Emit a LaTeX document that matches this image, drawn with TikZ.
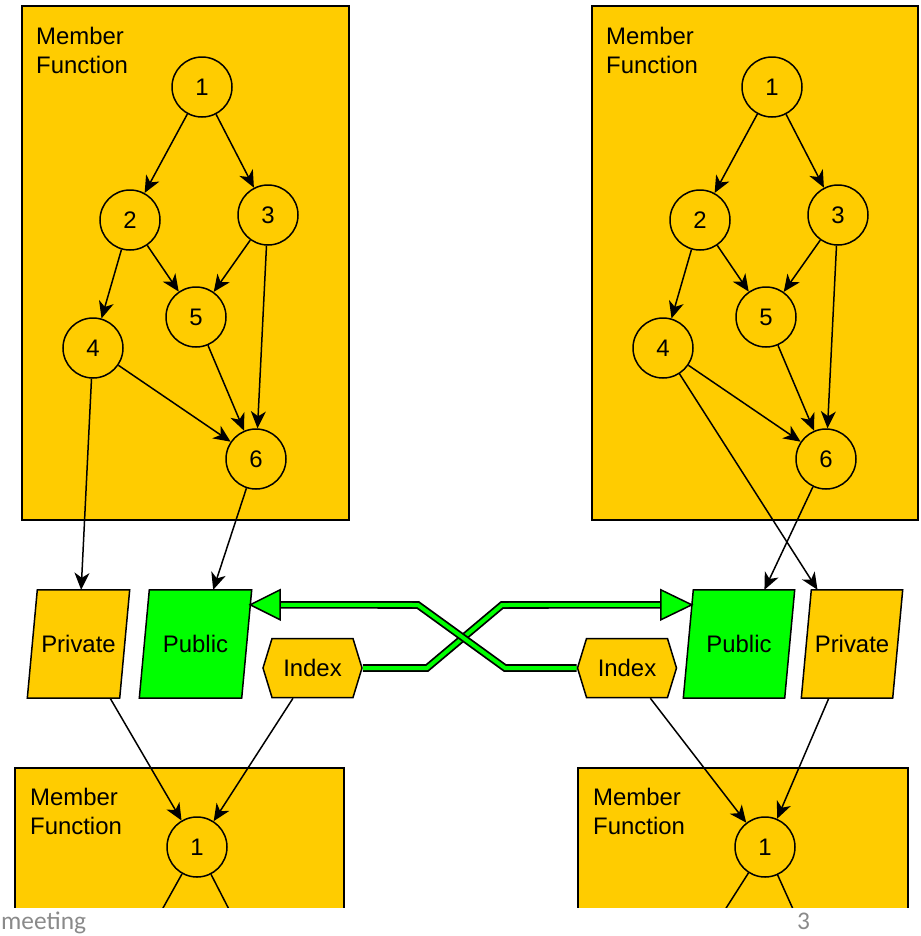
\documentclass[tikz,border=0pt]{standalone}
\usepackage{fontspec}
\setmainfont{Liberation Sans}
\newfontfamily\footfont{Carlito}
\usetikzlibrary{positioning,shapes.geometric,shapes.symbols,arrows.meta,backgrounds}
\definecolor{mfgold}{HTML}{FFCC00}
\definecolor{pubgreen}{HTML}{00FF00}
\definecolor{footgray}{HTML}{8A8A8A}
\tikzset{
  mfbox/.style={draw, line width=1.8bp, fill=mfgold},
  mflabel/.style={anchor=north west, inner sep=0pt, align=left},
  vtx/.style={circle, draw, line width=1.5bp, fill=mfgold, minimum size=60bp, inner sep=0pt},
  flow/.style={line width=1.5bp, -{Stealth[length=17bp,width=15bp,inset=5bp]}},
  plain/.style={line width=1.5bp},
  slantbox/.style={rectangle, minimum height=108bp, inner sep=0pt},
  slantline/.style={draw, line width=1.5bp},
  idxbox/.style={signal, signal to=east and west, signal pointer angle=146, draw,
    line width=1.5bp, fill=mfgold, minimum width=99bp, minimum height=59bp, inner sep=0pt},
  xfer/.style={draw=black, line width=1.8bp, double=pubgreen, double distance=4bp},
  xtip/.style={draw=black, line width=1.5bp, fill=pubgreen, line join=miter},
  foot/.style={font=\footfont\fontsize{25.5}{30}\selectfont, text=footgray, anchor=base west, inner sep=0pt}
}

\begin{document}
\begin{tikzpicture}[x=1bp, y=-1bp, font=\fontsize{24}{29}\selectfont]
\useasboundingbox (0,0) rectangle (921,936);

% member function boxes
\draw[mfbox] (22,6) rectangle (349,520);
\draw[mfbox] (592,6) rectangle (918,520);
\node[mflabel] (lTitle) at (36,27) {Member\\Function};
\node[mflabel] (rTitle) at (606,27) {Member\\Function};

% call graphs
\foreach \n/\x/\y in {1/202/87, 2/130/220, 3/268/215, 4/93/348, 5/196/317, 6/256/459}
{
  \node[vtx] (l\n) at (\x,\y) {\n};
  \node[vtx] (r\n) at (\x+570,\y) {\n};
}
\foreach \s/\t in {1/2, 1/3, 2/4, 2/5, 3/5, 3/6, 4/6, 5/6}
{
  \draw[flow] (l\s) -- (l\t);
  \draw[flow] (r\s) -- (r\t);
}

% data members
\node[slantbox, minimum width=92bp] (privL) at (78.5,644) {Private};
\node[slantbox, minimum width=102bp] (pubL) at (195.5,644) {Public};
\node[idxbox] (idxL) at (312.5,668) {Index};
\node[idxbox] (idxR) at (627,668) {Index};
\node[slantbox, minimum width=101bp] (pubR) at (739,644) {Public};
\node[slantbox, minimum width=91bp] (privR) at (852,644) {Private};
\begin{pgfonlayer}{background}
\foreach \b/\c in {privL/mfgold, pubL/pubgreen, pubR/pubgreen, privR/mfgold}
  \filldraw[slantline, fill=\c] ([xshift=-5bp]\b.south west) -- ([xshift=-5bp]\b.south east)
    -- ([xshift=5bp]\b.north east) -- ([xshift=5bp]\b.north west) -- cycle;
\end{pgfonlayer}

\draw[flow] (l4) -- (privL);
\draw[flow] (l6) -- (pubL);
\draw[flow] (r6) -- (pubR);
\draw[flow] (r4) -- (privR);

% exchange of public data
\coordinate (tipR) at ([xshift=3.5bp,yshift=-15bp]pubR.north west);
\coordinate (tipL) at ([xshift=3.5bp,yshift=-15bp]pubL.north east);
\draw[xfer] (idxL.east) -- (427,668) -- (502,605) -- ([xshift=-30bp]tipR);
\draw[xfer] (idxR.west) -- (505,668) -- (418,605) -- ([xshift=30bp]tipL);
\filldraw[xtip] (tipR) -- ++(-31,-15) -- ++(0,30) -- cycle;
\filldraw[xtip] (tipL) -- ++(30,-15) -- ++(0,30) -- cycle;

% called member functions
\begin{scope}
  \clip (0,0) rectangle (921,907);
  \draw[mfbox] (15,768) rectangle (344,920);
  \draw[mfbox] (578,768) rectangle (908,920);
  \node[mflabel] (lbTitle) at (30,788) {Member\\Function};
  \node[mflabel] (rbTitle) at (593,788) {Member\\Function};
  \node[vtx] (lb1) at (197,847) {1};
  \node[vtx] (rb1) at (765,847) {1};
  \coordinate (lb2) at (134,960);
  \coordinate (lb3) at (255,960);
  \coordinate (rb2) at (693,960);
  \coordinate (rb3) at (816,960);
  \draw[plain] (lb1) -- (lb2);
  \draw[plain] (lb1) -- (lb3);
  \draw[plain] (rb1) -- (rb2);
  \draw[plain] (rb1) -- (rb3);
\end{scope}
\draw[flow] (privL) -- (lb1);
\draw[flow] (idxL) -- (lb1);
\draw[flow] (idxR) -- (rb1);
\draw[flow] (privR) -- (rb1);

% footer
\node[foot] (footL) at (1,929.5) {meeting};
\node[foot] (footR) at (797,929.5) {3};
\end{tikzpicture}
\end{document}
